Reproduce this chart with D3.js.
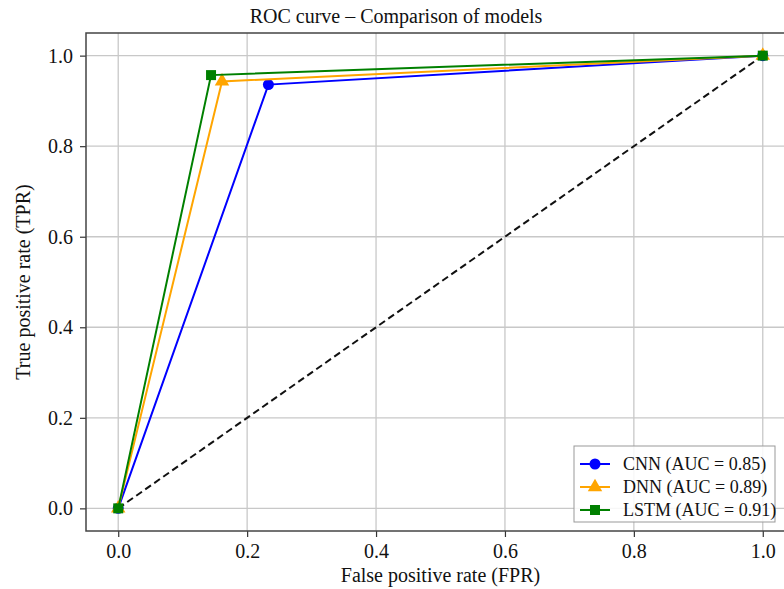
<!DOCTYPE html>
<html>
<head>
<meta charset="utf-8">
<script src="https://cdn.jsdelivr.net/npm/d3@7"></script>
<style>
  body { margin: 0; background: #fff; }
  svg text { font-family: "Liberation Serif", "Times New Roman", serif; fill: #111; }
</style>
</head>
<body>
<div id="chart"></div>
<script>
// ROC curve points (FPR, TPR) for each model
const models = ['CNN (AUC = 0.85)', 'DNN (AUC = 0.89)', 'LSTM (AUC = 0.91)'];
const cnnFpr = [0, 0.233, 1];
const cnnTpr = [0, 0.936, 1];
const dnnFpr = [0, 0.161, 1];
const dnnTpr = [0, 0.943, 1];
const lstmFpr = [0, 0.144, 1];
const lstmTpr = [0, 0.957, 1];
const tickValues = [0, 0.2, 0.4, 0.6, 0.8, 1.0];

const width = 784, height = 589;
const margin = { left: 86, right: -11, top: 33, bottom: 58 };

const svg = d3.select('#chart').append('svg')
    .attr('width', width)
    .attr('height', height);

const x = d3.scaleLinear().domain([-0.05, 1.05]).range([margin.left, width - margin.right]);
const y = d3.scaleLinear().domain([-0.05, 1.05]).range([height - margin.bottom, margin.top]);

const plot = svg.append('g');

// grid
plot.append('g').selectAll('line.gx')
    .data(tickValues).join('line')
    .attr('x1', d => x(d)).attr('x2', d => x(d))
    .attr('y1', y(-0.05)).attr('y2', y(1.05))
    .attr('stroke', '#c8c8c8').attr('stroke-width', 1.3);
plot.append('g').selectAll('line.gy')
    .data(tickValues).join('line')
    .attr('y1', d => y(d)).attr('y2', d => y(d))
    .attr('x1', x(-0.05)).attr('x2', x(1.05))
    .attr('stroke', '#c8c8c8').attr('stroke-width', 1.3);

// axes
const xAxis = svg.append('g')
    .attr('transform', `translate(0,${y(-0.05)})`)
    .call(d3.axisBottom(x).tickValues(tickValues).tickFormat(d3.format('.1f')).tickSize(6).tickPadding(7));
const yAxis = svg.append('g')
    .attr('transform', `translate(${x(-0.05)},0)`)
    .call(d3.axisLeft(y).tickValues(tickValues).tickFormat(d3.format('.1f')).tickSize(6).tickPadding(7));
[xAxis, yAxis].forEach(a => {
    a.select('.domain').remove();
    a.selectAll('line').attr('stroke', '#333').attr('stroke-width', 1.2);
    a.selectAll('text').style('font-size', '20px').attr('fill', '#111');
});

// frame
svg.append('rect')
    .attr('x', x(-0.05)).attr('y', y(1.05))
    .attr('width', x(1.05) - x(-0.05)).attr('height', y(-0.05) - y(1.05))
    .attr('fill', 'none').attr('stroke', '#444').attr('stroke-width', 1.5);

// chance diagonal
svg.append('line')
    .attr('x1', x(0)).attr('y1', y(0)).attr('x2', x(1)).attr('y2', y(1))
    .attr('stroke', '#111').attr('stroke-width', 2).attr('stroke-dasharray', '7,4');

const series = [
    { name: models[0], fpr: cnnFpr, tpr: cnnTpr, color: '#0000ff', marker: d3.symbolCircle, size: 95 },
    { name: models[1], fpr: dnnFpr, tpr: dnnTpr, color: '#ffa500', marker: d3.symbolTriangle, size: 90 },
    { name: models[2], fpr: lstmFpr, tpr: lstmTpr, color: '#008000', marker: d3.symbolSquare, size: 100 }
];

const line = d3.line().x(d => x(d[0])).y(d => y(d[1]));

series.forEach(s => {
    const pts = s.fpr.map((f, i) => [f, s.tpr[i]]);
    svg.append('path')
        .datum(pts)
        .attr('d', line)
        .attr('fill', 'none')
        .attr('stroke', s.color)
        .attr('stroke-width', 2);
    svg.append('g').selectAll('path')
        .data(pts).join('path')
        .attr('transform', d => `translate(${x(d[0])},${y(d[1])})`)
        .attr('d', d3.symbol().type(s.marker).size(s.size))
        .attr('fill', s.color);
});

// legend
const lg = svg.append('g').attr('transform', 'translate(574,446)');
lg.append('rect')
    .attr('width', 201).attr('height', 76)
    .attr('fill', '#fff').attr('fill-opacity', 0.85)
    .attr('stroke', '#999').attr('stroke-width', 1);
series.forEach((s, i) => {
    const yy = 18 + i * 23;
    lg.append('line')
        .attr('x1', 6).attr('x2', 36).attr('y1', yy).attr('y2', yy)
        .attr('stroke', s.color).attr('stroke-width', 2);
    lg.append('path')
        .attr('transform', `translate(21,${yy})`)
        .attr('d', d3.symbol().type(s.marker).size(s.size))
        .attr('fill', s.color);
    lg.append('text')
        .attr('x', 49).attr('y', yy + 6)
        .style('font-size', '18px')
        .text(s.name);
});

// titles
svg.append('text')
    .attr('x', 396).attr('y', 23)
    .attr('text-anchor', 'middle')
    .style('font-size', '20px')
    .text('ROC curve – Comparison of models');
svg.append('text')
    .attr('x', (x(-0.05) + x(1.05)) / 2).attr('y', 582)
    .attr('text-anchor', 'middle')
    .style('font-size', '20px')
    .text('False positive rate (FPR)');
svg.append('text')
    .attr('transform', `translate(30,${(y(-0.05) + y(1.05)) / 2}) rotate(-90)`)
    .attr('text-anchor', 'middle')
    .style('font-size', '20px')
    .text('True positive rate (TPR)');
</script>
</body>
</html>
